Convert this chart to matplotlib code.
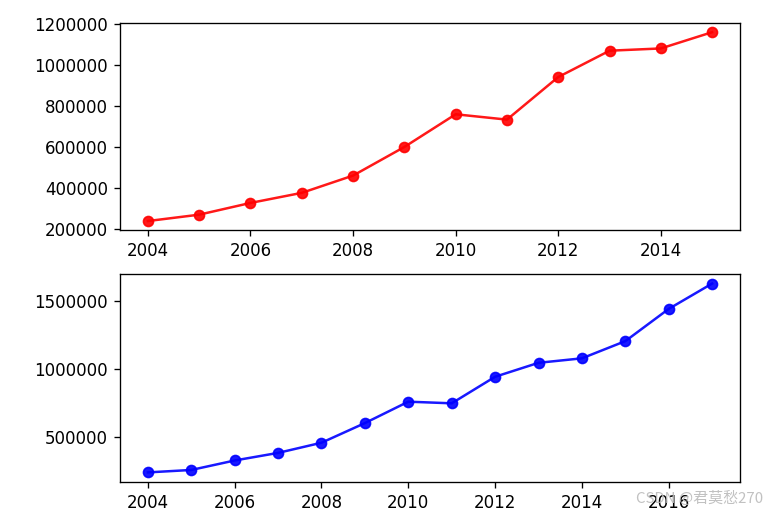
import matplotlib
matplotlib.use('Agg')
import matplotlib.pyplot as plt

# data
years_top = [2004, 2005, 2006, 2007, 2008, 2009, 2010, 2011, 2012, 2013, 2014, 2015]
values_top = [240000, 271000, 328000, 377000, 461000, 600000, 759000, 733000, 940000, 1068000, 1079000, 1158000]

years_bottom = [2004, 2005, 2006, 2007, 2008, 2009, 2010, 2011, 2012, 2013, 2014, 2015, 2016, 2017]
values_bottom = [236000, 254000, 324000, 380000, 455000, 600000, 758000, 746000, 942000, 1045000, 1078000, 1205000, 1443000, 1630000]

fig = plt.figure(figsize=(772 / 120, 517 / 120), dpi=120)
plt.subplots_adjust(left=0.155, right=0.959, top=0.956, bottom=0.068, hspace=0.21)

ax1 = plt.subplot(2, 1, 1)
ax1.plot(years_top, values_top, color='red', marker='o', alpha=0.9)
ax1.ticklabel_format(style='plain', axis='y')

ax2 = plt.subplot(2, 1, 2)
ax2.plot(years_bottom, values_bottom, color='blue', marker='o', alpha=0.9)
ax2.ticklabel_format(style='plain', axis='y')

# watermark
fig.text(0.988, 0.022, 'CSDN @君莫愁270', ha='right', va='bottom', fontsize=9,
         color='#bbbbbb', alpha=0.9, family=['Noto Sans CJK SC', 'DejaVu Sans'])

plt.savefig('out.png', dpi=120)
